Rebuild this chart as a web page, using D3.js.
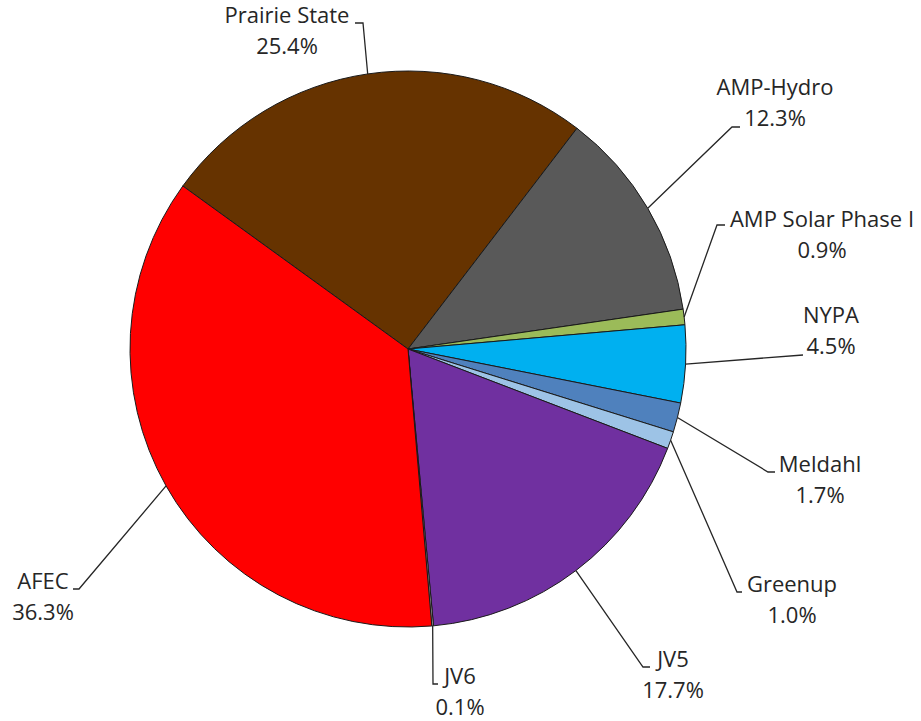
<!DOCTYPE html>
<html>
<head>
<meta charset="utf-8">
<script src="https://cdn.jsdelivr.net/npm/d3@7"></script>
<style>
  html, body { margin: 0; padding: 0; background: #ffffff; }
  svg { display: block; }
</style>
</head>
<body>
<svg id="chart" width="921" height="721"></svg>
<script>
// ---- data ----
const categories = ["Prairie State", "AMP-Hydro", "AMP Solar Phase I", "NYPA", "Meldahl", "Greenup", "JV5", "JV6", "AFEC"];
const values = [25.4, 12.3, 0.9, 4.5, 1.7, 1.0, 17.7, 0.1, 36.3];
const valueLabels = ["25.4%", "12.3%", "0.9%", "4.5%", "1.7%", "1.0%", "17.7%", "0.1%", "36.3%"];

// ---- styles ----
const colors = ["#663300", "#595959", "#9BBB59", "#00B0F0", "#4F81BD", "#9DC3E6", "#7030A0", "#A5A5A5", "#FF0000"];

// ---- label layout (text centre x, first baseline y, elbow point, end of short horizontal tick) ----
const labelLayout = [
  { tx: 287, ty: 23,  ex: 363, ey: 23,  hx: 355 },
  { tx: 775, ty: 95,  ex: 732, ey: 127, hx: 740 },
  { tx: 822, ty: 227, ex: 717, ey: 225, hx: 725 },
  { tx: 831, ty: 323, ex: 803, ey: 355, hx: 803 },
  { tx: 820, ty: 472, ex: 768, ey: 472, hx: 775 },
  { tx: 792, ty: 592, ex: 737, ey: 592, hx: 742 },
  { tx: 673, ty: 667, ex: 643, ey: 667, hx: 650 },
  { tx: 460, ty: 684, ex: 433, ey: 684, hx: 438 },
  { tx: 43,  ty: 589, ex: 79,  ey: 589, hx: 73 }
];

const cx = 408, cy = 349, R = 278;
const startDeg = -54.1;
const lineGap = 31;

const svg = d3.select("#chart");
const g = svg.append("g").attr("transform", `translate(${cx},${cy})`);

const a0 = startDeg * Math.PI / 180;
const pie = d3.pie().sort(null).value(d => d.v).startAngle(a0).endAngle(a0 + 2 * Math.PI);
const rows = categories.map((c, i) => ({ c, v: values[i], i }));
const arcs = pie(rows);

const arc = d3.arc().innerRadius(0).outerRadius(R);
const edge = d3.arc().innerRadius(R).outerRadius(R);

g.selectAll("path.slice")
  .data(arcs)
  .enter().append("path")
  .attr("class", "slice")
  .attr("d", arc)
  .attr("fill", d => colors[d.data.i])
  .attr("stroke", "#1a1a1a")
  .attr("stroke-width", 1)
  .attr("stroke-linejoin", "round");

// leader lines
const lines = svg.append("g");
arcs.forEach(d => {
  const L = labelLayout[d.data.i];
  const p = edge.centroid(d);
  const sx = cx + p[0], sy = cy + p[1];
  const pts = [[sx, sy], [L.ex, L.ey], [L.hx, L.ey]];
  lines.append("path")
    .attr("d", d3.line()(pts))
    .attr("fill", "none")
    .attr("stroke", "#262626")
    .attr("stroke-width", 1.3);
});

// labels
const labels = svg.append("g")
  .attr("font-family", "'Open Sans', 'Noto Sans', sans-serif")
  .attr("font-size", 22)
  .attr("fill", "#262626")
  .attr("text-anchor", "middle");

arcs.forEach(d => {
  const L = labelLayout[d.data.i];
  const t = labels.append("text").attr("x", L.tx).attr("y", L.ty);
  t.append("tspan").attr("x", L.tx).attr("y", L.ty).text(d.data.c);
  t.append("tspan").attr("x", L.tx).attr("y", L.ty + lineGap).text(valueLabels[d.data.i]);
});
</script>
</body>
</html>
